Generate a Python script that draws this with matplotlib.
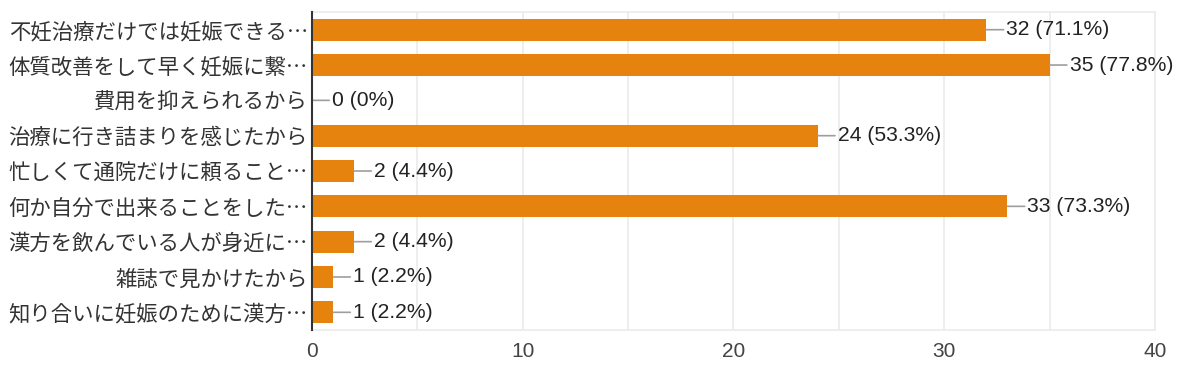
import matplotlib.pyplot as plt

labels = ['不妊治療だけでは妊娠できる…', '体質改善をして早く妊娠に繋…', '費用を抑えられるから',
          '治療に行き詰まりを感じたから', '忙しくて通院だけに頼ること…', '何か自分で出来ることをした…',
          '漢方を飲んでいる人が身近に…', '雑誌で見かけたから', '知り合いに妊娠のために漢方…']
counts = [32, 35, 0, 24, 2, 33, 2, 1, 1]
percents = ['71.1%', '77.8%', '0%', '53.3%', '4.4%', '73.3%', '4.4%', '2.2%', '2.2%']
xticks = [0, 10, 20, 30, 40]

plt.rcParams['font.family'] = ['Liberation Sans', 'Noto Sans CJK JP', 'DejaVu Sans']

fig = plt.figure(figsize=(11.84, 3.68), dpi=100)
ax = fig.add_axes([0.2635, 0.1033, 0.712, 0.864])

pos = list(range(len(labels)))
ax.barh(pos, counts, height=0.62, color='#e6830f', zorder=3)

for i, (c, p) in enumerate(zip(counts, percents)):
    ax.annotate('%d (%s)' % (c, p), xy=(c, i), xytext=(20, 0), textcoords='offset pixels',
                va='center', ha='left', fontsize=15.2, color='#222222',
                arrowprops=dict(arrowstyle='-', color='#9e9e9e', lw=1.2, shrinkA=0, shrinkB=0),
                zorder=4)

ax.set_xlim(0, 40)
ax.set_ylim(len(labels) - 0.5, -0.5)
ax.set_xticks(xticks)
ax.set_xticks(range(5, 40, 10), minor=True)
ax.grid(axis='x', which='both', color='#ebebeb', lw=1.2, zorder=0)
ax.set_yticks(pos)
ax.set_yticklabels(labels, family=['Noto Sans CJK JP', 'DejaVu Sans'], fontsize=15.4, color='#333333')
ax.tick_params(axis='y', length=0, pad=3)
ax.tick_params(axis='x', which='both', length=0, pad=9, labelsize=15, labelcolor='#444444')

for s in ['top', 'right', 'bottom']:
    ax.spines[s].set_color('#ebebeb')
    ax.spines[s].set_linewidth(1.2)
ax.spines['left'].set_color('#333333')
ax.spines['left'].set_linewidth(1.5)
ax.spines['left'].set_zorder(5)

fig.savefig('out.png', dpi=100)
